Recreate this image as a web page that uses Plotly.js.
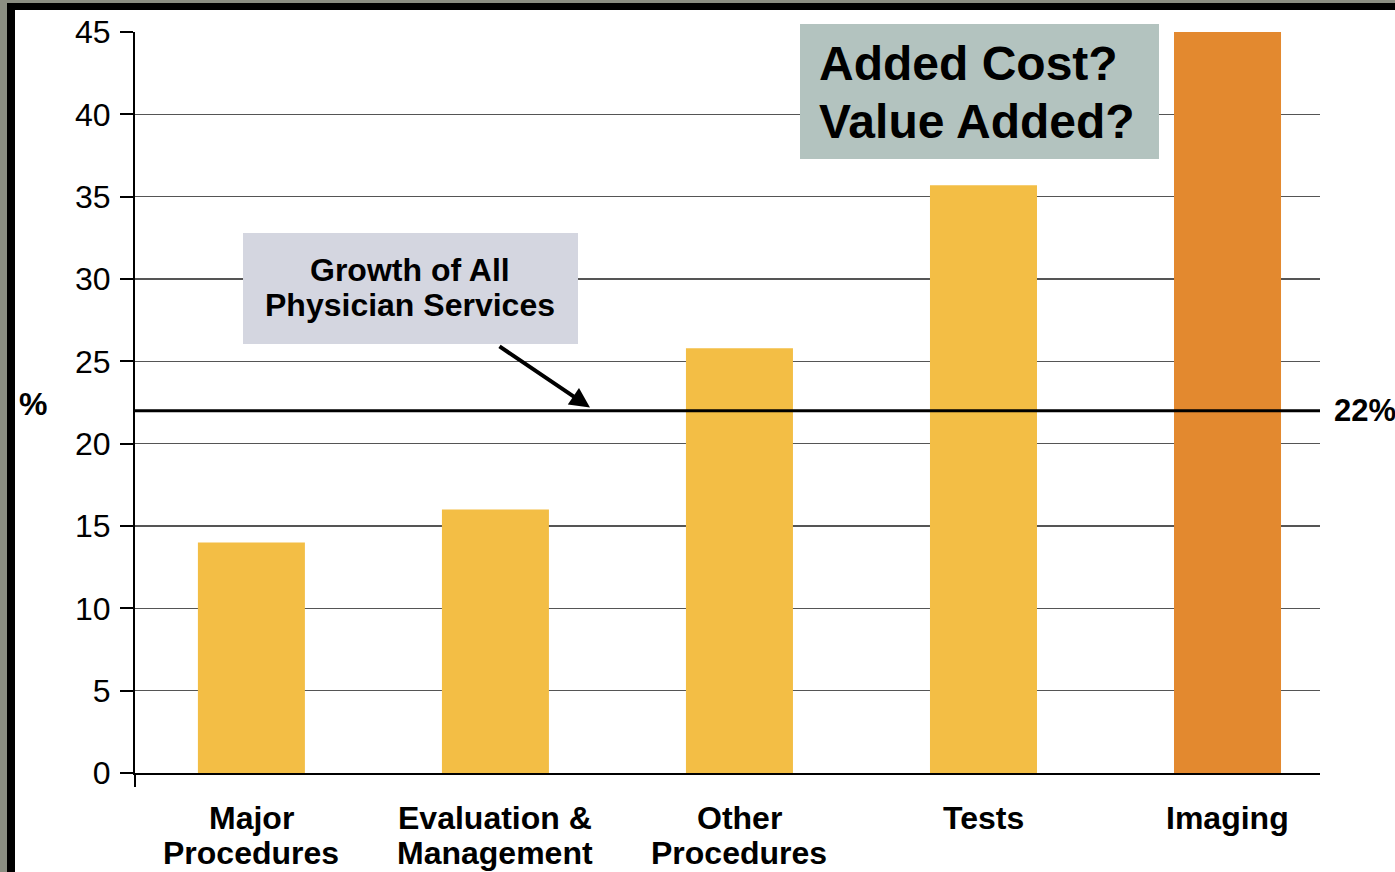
<!DOCTYPE html>
<html>
<head>
<meta charset="utf-8">
<script src="https://cdn.plot.ly/plotly-3.0.1.min.js"></script>
<style>
  html, body { margin: 0; padding: 0; width: 1395px; height: 872px; overflow: hidden; background: #8b8e82; }
  #chart { position: absolute; left: 0; top: 0; width: 1395px; height: 872px; }
  .frame { position: absolute; pointer-events: none; }
</style>
</head>
<body>
<div id="chart"></div>
<div class="frame" style="left:0;top:0;width:7px;height:872px;background:#8b8e82;"></div>
<div class="frame" style="left:0;top:0;width:1395px;height:3px;background:#8b8e82;"></div>
<div class="frame" style="left:7px;top:3px;width:8px;height:869px;background:#000;"></div>
<div class="frame" style="left:7px;top:3px;width:1388px;height:7px;background:#000;"></div>
<script>
const categories = ["Major<br>Procedures", "Evaluation &<br>Management", "Other<br>Procedures", "Tests", "Imaging"];
const growth = [14, 16, 25.8, 35.7, 45];
const barColors = ["#F3BE45", "#F3BE45", "#F3BE45", "#F3BE45", "#E3892F"];
const allServicesGrowth = 22;
const yTicks = [0, 5, 10, 15, 20, 25, 30, 35, 40, 45];
const growthNoteLines = ["Growth of All", "Physician Services"];
const questionLines = ["Added Cost?", "Value Added?"];

const xIdx = categories.map((_, i) => i);

const FONT = "Liberation Sans, Arial, Helvetica, sans-serif";

// pixel helpers for layout (plot area: x 135..1320, y 32..773)
const PX_L = 135, PX_W = 1185, PX_B = 773, PX_H = 741;
const xPaper = px => (px - PX_L) / PX_W;
const yPaper = py => (PX_B - py) / PX_H;

const data = [{
  type: "bar",
  x: xIdx,
  y: growth,
  width: 0.4385,
  marker: { color: barColors, line: { width: 0 } },
  hoverinfo: "skip"
}];

const annotations = [];
// category labels, one annotation per line for tight line spacing
categories.forEach((label, i) => {
  label.split("<br>").forEach((line, j) => {
    annotations.push({
      xref: "x", yref: "paper", x: i, y: yPaper(818 + 35 * j),
      xanchor: "center", yanchor: "middle", showarrow: false,
      text: line, font: { family: FONT, size: 32, color: "#000", weight: "bold" }
    });
  });
});
growthNoteLines.forEach((line, j) => {
  annotations.push({
    xref: "paper", yref: "paper", x: xPaper(410), y: yPaper(270 + 35 * j),
    xanchor: "center", yanchor: "middle", showarrow: false,
    text: line, font: { family: FONT, size: 32, color: "#000", weight: "bold" }
  });
});
questionLines.forEach((line, j) => {
  annotations.push({
    xref: "paper", yref: "paper", x: xPaper(817), y: yPaper(64 + 57 * j),
    xanchor: "left", yanchor: "middle", showarrow: false,
    text: line, font: { family: FONT, size: 48, color: "#000", weight: "bold" }
  });
});
annotations.push(
  { xref: "paper", yref: "paper", x: xPaper(33), y: yPaper(404), xanchor: "center", yanchor: "middle",
    text: "%", showarrow: false, font: { family: FONT, size: 32, color: "#000", weight: "bold" } },
  { xref: "paper", yref: "y", x: xPaper(1332), y: allServicesGrowth, xanchor: "left", yanchor: "middle",
    text: "22%", showarrow: false, font: { family: FONT, size: 31, color: "#000", weight: "bold" } },
  { xref: "paper", yref: "y", x: xPaper(590), y: allServicesGrowth + 0.2,
    axref: "pixel", ayref: "pixel", ax: 498 - 590, ay: 345 - 407,
    text: "", showarrow: true, arrowhead: 2, arrowsize: 1, arrowwidth: 4, arrowcolor: "#000",
    standoff: 0 }
);

const layout = {
  width: 1395,
  height: 872,
  margin: { l: 135, r: 75, t: 32, b: 99 },
  paper_bgcolor: "#ffffff",
  plot_bgcolor: "#ffffff",
  showlegend: false,
  font: { family: FONT, color: "#000" },
  xaxis: {
    range: [-0.477, 4.379],
    tickvals: xIdx,
    showticklabels: false,
    showgrid: false,
    zeroline: false,
    showline: true,
    linecolor: "#000",
    linewidth: 2,
    ticks: "",
    fixedrange: true
  },
  yaxis: {
    range: [0, 45],
    tickvals: yTicks,
    ticktext: yTicks.map(String),
    showgrid: true,
    gridcolor: "#555555",
    gridwidth: 1.5,
    zeroline: false,
    showline: true,
    linecolor: "#000",
    linewidth: 2,
    ticks: "outside",
    ticklen: 13,
    tickwidth: 2,
    tickcolor: "#000",
    tickfont: { family: FONT, size: 32, color: "#000" },
    ticklabelstandoff: 3,
    fixedrange: true
  },
  shapes: [
    // y axis extension below zero
    { type: "line", xref: "paper", yref: "paper", x0: 0, x1: 0, y0: 0, y1: -14 / PX_H,
      line: { color: "#000", width: 2 } },
    // 22% reference line
    { type: "line", xref: "paper", yref: "y", x0: 0, x1: 1, y0: allServicesGrowth, y1: allServicesGrowth,
      line: { color: "#000", width: 3 }, layer: "above" },
    // box behind the growth note
    { type: "rect", xref: "paper", yref: "paper", x0: xPaper(243), x1: xPaper(578),
      y0: yPaper(344), y1: yPaper(233),
      fillcolor: "#d4d6e0", line: { width: 0 }, layer: "above" },
    // box behind the questions
    { type: "rect", xref: "paper", yref: "paper", x0: xPaper(800), x1: xPaper(1159),
      y0: yPaper(159), y1: yPaper(24),
      fillcolor: "#b3c3bf", line: { width: 0 }, layer: "above" }
  ],
  annotations: annotations
};

Plotly.newPlot("chart", data, layout, { displayModeBar: false, staticPlot: true });
</script>
</body>
</html>
